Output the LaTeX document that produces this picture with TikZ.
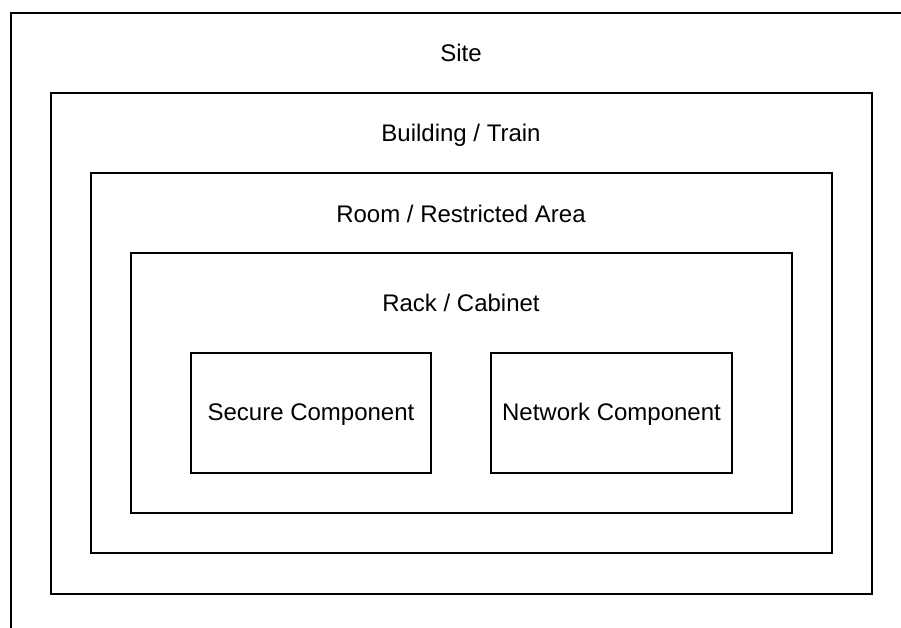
\documentclass[tikz,border=0pt]{standalone}
\usepackage{fontspec}
\setmainfont{Liberation Sans}
\begin{document}
\begin{tikzpicture}[x=0.75pt,y=-0.75pt,
  box/.style={draw=black,line width=1.5pt,fill=none,inner sep=0pt,outer sep=0pt},
  lbl/.style={font=\fontsize{18}{21}\selectfont,inner sep=0pt,anchor=base}]
\useasboundingbox (0,0) rectangle (901,628);
\clip (0,0) rectangle (901,628);
\fill[white] (0,0) rectangle (901,628);
% site (extends beyond the picture)
\node[box,minimum width=960*0.75pt,minimum height=700*0.75pt,anchor=north west] (site) at (11,13) {};
\node[box,minimum width=821*0.75pt,minimum height=501*0.75pt,anchor=north west] (building) at (51,93) {};
\node[box,minimum width=741*0.75pt,minimum height=380*0.75pt,anchor=north west] (room) at (91,173) {};
\node[box,minimum width=661*0.75pt,minimum height=260*0.75pt,anchor=north west] (rack) at (131,253) {};
\node[box,minimum width=240*0.75pt,minimum height=120*0.75pt,anchor=north west] (secure) at (191,353) {};
\node[box,minimum width=241*0.75pt,minimum height=120*0.75pt,anchor=north west] (network) at (491,353) {};
\node[lbl] (sitelbl) at (461,61.5) {Site};
\node[lbl] (buildinglbl) at (461,141.5) {Building / Train};
\node[lbl] (roomlbl) at (461,222) {Room / Restricted Area};
\node[lbl] (racklbl) at (461,311.5) {Rack / Cabinet};
\node[lbl] (securelbl) at (311,420.5) {Secure Component};
\node[lbl] (networklbl) at (611.5,420.5) {Network Component};
\end{tikzpicture}
\end{document}
